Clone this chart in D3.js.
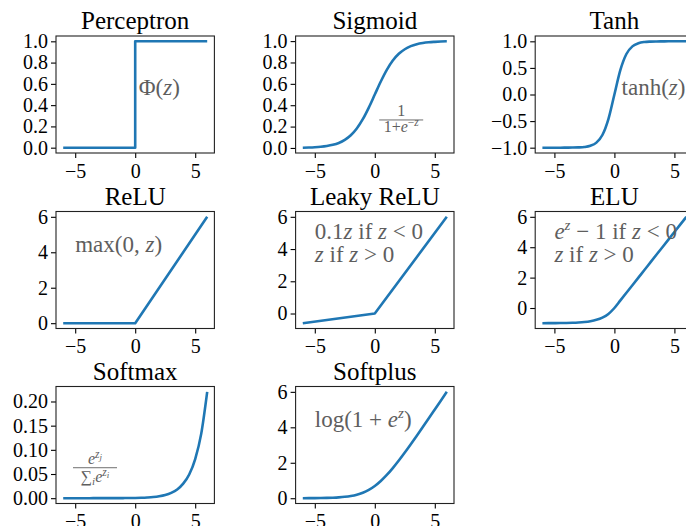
<!DOCTYPE html>
<html>
<head>
<meta charset="utf-8">
<script src="https://cdn.jsdelivr.net/npm/d3@7"></script>
<style>
body { margin: 0; background: #fff; }
svg { display: block; font-family: 'Liberation Serif', serif; }
.tick text { font-size: 20px; fill: #000; }
.tick line { stroke: #000; stroke-width: 1.1; }
.frame { fill: none; stroke: #222; stroke-width: 1.1; }
.title { font-size: 25px; text-anchor: middle; fill: #000; }
.note { fill: #5e5e5e; }
.curve { fill: none; stroke: #1f77b4; stroke-width: 2.6; stroke-linejoin: round; }
</style>
</head>
<body>
<svg id="chart" width="686" height="526"></svg>
<script>
// ACTIVATION FUNCTIONS

const titles = ['Perceptron', 'Sigmoid', 'Tanh', 'ReLU', 'Leaky ReLU', 'ELU', 'Softmax', 'Softplus'];

// smooth curves are read at every half step of z
const zGrid = [-6, -5.5, -5, -4.5, -4, -3.5, -3, -2.5, -2, -1.5, -1, -0.5, 0,
    0.5, 1, 1.5, 2, 2.5, 3, 3.5, 4, 4.5, 5, 5.5, 6];
const sigmoidValues = [0.0025, 0.0041, 0.0067, 0.011, 0.018, 0.029, 0.047, 0.076, 0.119, 0.182, 0.269, 0.378, 0.5,
    0.622, 0.731, 0.818, 0.881, 0.924, 0.953, 0.971, 0.982, 0.989, 0.993, 0.996, 0.998];
const tanhValues = [-1.0, -1.0, -1.0, -1.0, -0.999, -0.998, -0.995, -0.987, -0.964, -0.905, -0.762, -0.462, 0,
    0.462, 0.762, 0.905, 0.964, 0.987, 0.995, 0.998, 0.999, 1.0, 1.0, 1.0, 1.0];
const eluValues = [-0.998, -0.996, -0.993, -0.989, -0.982, -0.970, -0.950, -0.918, -0.865, -0.777, -0.632, -0.393, 0,
    0.5, 1, 1.5, 2, 2.5, 3, 3.5, 4, 4.5, 5, 5.5, 6];
const softmaxValues = [0.000001, 0.000002, 0.000004, 0.000007, 0.00001, 0.00002, 0.00003, 0.00005, 0.00007, 0.00012, 0.0002, 0.0003, 0.0005,
    0.0009, 0.0015, 0.0024, 0.0040, 0.0066, 0.011, 0.018, 0.030, 0.049, 0.081, 0.133, 0.220];
const softplusValues = [0.0025, 0.0041, 0.0067, 0.011, 0.018, 0.030, 0.049, 0.079, 0.127, 0.201, 0.313, 0.474, 0.693,
    0.974, 1.313, 1.701, 2.127, 2.579, 3.049, 3.530, 4.018, 4.511, 5.007, 5.504, 6.002];

// piecewise linear ones only need their corners
const perceptronZ = [-6, 0, 0, 6];
const perceptronValues = [0, 0, 1, 1];
const reluZ = [-6, 0, 6];
const reluValues = [0, 0, 6];
const leakyZ = [-6, 0, 6];
const leakyValues = [-0.6, 0, 6];

const xTicks = [-5, 0, 5];
const unitTicks = [0, 0.2, 0.4, 0.6, 0.8, 1.0];
const tanhTicks = [-1.0, -0.5, 0.0, 0.5, 1.0];
const linearTicks = [0, 2, 4, 6];
const softmaxTicks = [0, 0.05, 0.10, 0.15, 0.20];

const BOX_W = 158.4, BOX_H = 117;
const COL_X = [56, 295.6, 535.2];
const ROW_Y = [36, 211.5, 386.5];

const svg = d3.select('#chart');

function padded(extent) {
    const m = (extent[1] - extent[0]) * 0.05;
    return [extent[0] - m, extent[1] + m];
}

// text made of pieces: {t: text, i: italic, s: size, dy: shift}
function mathText(g, px, py, size, pieces, anchor) {
    const text = g.append('text')
        .attr('class', 'note')
        .attr('x', px)
        .attr('y', py)
        .attr('text-anchor', anchor || 'start')
        .style('font-size', size + 'px');
    pieces.forEach(p => {
        const s = text.append('tspan').text(p.t).style('font-size', (p.s || size) + 'px');
        if (p.i) s.style('font-style', 'italic');
        if (p.dy) s.attr('dy', p.dy);
    });
    return text;
}
function fractionBar(g, cx, cy, half) {
    g.append('line')
        .attr('x1', cx - half).attr('x2', cx + half)
        .attr('y1', cy).attr('y2', cy)
        .attr('stroke', '#5e5e5e')
        .attr('stroke-width', 0.9);
}

const notes = [
    (g, x, y) => mathText(g, x(0.3), y(0.5), 23, [{ t: 'Φ(' }, { t: 'z', i: 1 }, { t: ')' }]),
    (g, x, y) => {
        const cx = x(2.2), cy = y(0.262);
        mathText(g, cx, cy - 3.5, 16, [{ t: '1' }], 'middle');
        fractionBar(g, cx, cy, 22);
        mathText(g, cx, cy + 12, 16, [{ t: '1+' }, { t: 'e', i: 1 },
            { t: '−', s: 11.5, dy: -6 }, { t: 'z', i: 1, s: 11.5 }], 'middle');
    },
    (g, x, y) => mathText(g, x(0.6), y(0), 23, [{ t: 'tanh(' }, { t: 'z', i: 1 }, { t: ')' }]),
    (g, x, y) => mathText(g, x(-5), y(4), 23, [{ t: 'max(0, ' }, { t: 'z', i: 1 }, { t: ')' }]),
    (g, x, y) => {
        mathText(g, x(-5), y(4) - 10, 23, [{ t: '0.1' }, { t: 'z', i: 1 }, { t: ' if ' }, { t: 'z', i: 1 }, { t: ' < 0' }]);
        mathText(g, x(-5), y(4) + 13, 23, [{ t: 'z', i: 1 }, { t: ' if ' }, { t: 'z', i: 1 }, { t: ' > 0' }]);
    },
    (g, x, y) => {
        mathText(g, x(-5), y(4) - 8, 23, [{ t: 'e', i: 1 }, { t: 'z', i: 1, s: 15, dy: -9 },
            { t: ' − 1 if ', dy: 9 }, { t: 'z', i: 1 }, { t: ' < 0' }]);
        mathText(g, x(-5), y(4) + 15, 23, [{ t: 'z', i: 1 }, { t: ' if ' }, { t: 'z', i: 1 }, { t: ' > 0' }]);
    },
    (g, x, y) => {
        const cx = x(-3.35), cy = y(0.063);
        mathText(g, cx, cy - 4, 16, [{ t: 'e', i: 1 }, { t: 'z', i: 1, s: 11.5, dy: -6 },
            { t: 'j', i: 1, s: 9, dy: 2 }], 'middle');
        fractionBar(g, cx, cy, 22);
        mathText(g, cx, cy + 14, 16, [{ t: '∑' }, { t: 'i', i: 1, s: 11, dy: 3 }, { t: 'e', i: 1, dy: -3 },
            { t: 'z', i: 1, s: 11.5, dy: -6 }, { t: 'i', i: 1, s: 9, dy: 2 }], 'middle');
    },
    (g, x, y) => mathText(g, x(-5), y(4), 23, [{ t: 'log(1 + ' }, { t: 'e', i: 1 },
        { t: 'z', i: 1, s: 15, dy: -9 }, { t: ')', dy: 9 }])
];

const panels = [
    { z: perceptronZ, values: perceptronValues, ticks: unitTicks, format: '.1f', curve: d3.curveLinear },
    { z: zGrid, values: sigmoidValues, ticks: unitTicks, format: '.1f', curve: d3.curveMonotoneX },
    { z: zGrid, values: tanhValues, ticks: tanhTicks, format: '.1f', curve: d3.curveMonotoneX },
    { z: reluZ, values: reluValues, ticks: linearTicks, format: 'd', curve: d3.curveLinear },
    { z: leakyZ, values: leakyValues, ticks: linearTicks, format: 'd', curve: d3.curveLinear },
    { z: zGrid, values: eluValues, ticks: linearTicks, format: 'd', curve: d3.curveMonotoneX },
    { z: zGrid, values: softmaxValues, ticks: softmaxTicks, format: '.2f', curve: d3.curveMonotoneX },
    { z: zGrid, values: softplusValues, ticks: linearTicks, format: 'd', curve: d3.curveMonotoneX }
];

panels.forEach((panel, i) => {
    const g = svg.append('g')
        .attr('transform', `translate(${COL_X[i % 3]},${ROW_Y[Math.floor(i / 3)]})`);
    const x = d3.scaleLinear().domain(padded(d3.extent(panel.z))).range([0, BOX_W]);
    const y = d3.scaleLinear().domain(padded(d3.extent(panel.values))).range([BOX_H, 0]);

    g.append('g')
        .attr('transform', `translate(0,${BOX_H})`)
        .call(d3.axisBottom(x).tickValues(xTicks).tickFormat(d3.format('d')).tickSize(5).tickPadding(5.5))
        .attr('font-family', null).attr('font-size', null)
        .call(a => a.select('.domain').remove());
    g.append('g')
        .call(d3.axisLeft(y).tickValues(panel.ticks).tickFormat(d3.format(panel.format)).tickSize(5).tickPadding(3))
        .attr('font-family', null).attr('font-size', null)
        .call(a => a.select('.domain').remove());

    g.append('path')
        .datum(panel.z.map((z, k) => [z, panel.values[k]]))
        .attr('class', 'curve')
        .attr('d', d3.line().x(d => x(d[0])).y(d => y(d[1])).curve(panel.curve));

    g.append('rect')
        .attr('class', 'frame')
        .attr('width', BOX_W)
        .attr('height', BOX_H);

    g.append('text')
        .attr('class', 'title')
        .attr('x', BOX_W / 2)
        .attr('y', -7)
        .text(titles[i]);

    notes[i](g, x, y);
});
</script>
</body>
</html>
